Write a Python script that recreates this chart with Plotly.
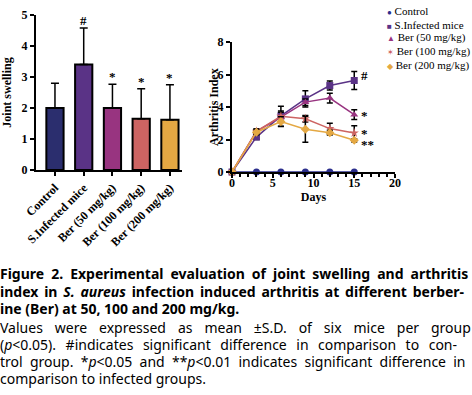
import plotly.graph_objects as go

W, H = 472, 395


def fx(px):
    return px / W


def fy(py):
    return (H - py) / H


# ---- Data: joint swelling (bar chart)
groups = ["Control", "S.Infected mice", "Ber (50 mg/kg)", "Ber (100 mg/kg)", "Ber (200 mg/kg)"]
swelling = [2.0, 3.4, 2.0, 1.65, 1.62]
swelling_sd = [0.8, 1.18, 0.77, 0.97, 1.13]
swelling_sig = ["", "#", "*", "*", "*"]
bar_colors = ["#2B2E6E", "#5A3386", "#983480", "#CD6462", "#E4A843"]

# ---- Data: arthritis index (line chart)
days = [0, 3, 6, 9, 12, 15]
control = [0, 0, 0, 0, 0, 0]
infected = [0, 2.15, 3.45, 4.5, 5.32, 5.63]
infected_sd = [0, 0.15, 0.3, 0.5, 0.28, 0.56]
ber50 = [0, 2.5, 3.38, 4.3, 4.55, 3.53]
ber50_sd = [0, 0.15, 0.3, 0.2, 0.3, 0.3]
ber100 = [0, 2.5, 3.43, 3.28, 2.67, 2.4]
ber100_sd = [0, 0.15, 0.62, 0.2, 0.33, 0.45]
ber200 = [0, 2.45, 3.1, 2.63, 2.42, 1.95]
ber200_sd = [0, 0.15, 0.3, 0.8, 0.15, 0.1]
end_sig = ["#", "*", "*", "**"]

serif = "Liberation Serif"
sans = "Noto Sans"

fig = go.Figure()

# Bar chart
fig.add_trace(go.Bar(
    x=groups, y=swelling, width=0.6,
    marker=dict(color=bar_colors, line=dict(color="black", width=2)),
    error_y=dict(type="data", array=swelling_sd, arrayminus=[0]*5, symmetric=False,
                 color="black", thickness=1.5, width=4),
    xaxis="x", yaxis="y", showlegend=False, cliponaxis=False,
))
for g, v, s, t in zip(groups, swelling, swelling_sd, swelling_sig):
    if t:
        fig.add_annotation(x=g, y=v + s, text=t, xref="x", yref="y", showarrow=False,
                           yanchor="bottom", yshift=-2,
                           font=dict(family=serif, size=13, color="black", weight="bold"))

# Line chart
series = [
    ("Control", control, None, "#2B2E8C", "circle", "\u25cf"),
    ("S.Infected mice", infected, infected_sd, "#5A3386", "square", "\u25a0"),
    ("Ber (50 mg/kg)", ber50, ber50_sd, "#983480", "triangle-up", "\u25b2"),
    ("Ber (100 mg/kg)", ber100, ber100_sd, "#CD6462", "star", "\u2736"),
    ("Ber (200 mg/kg)", ber200, ber200_sd, "#E4A843", "diamond", "\u25c6"),
]
legend_rows = [11, 25, 38, 51, 65]
for (name, ys, sd, col, sym, glyph), ly in zip(series, legend_rows):
    err = None
    if sd is not None:
        err = dict(type="data", array=sd, color="black", thickness=1.5, width=3)
    fig.add_trace(go.Scatter(
        x=days, y=ys, mode="lines+markers", name=name,
        line=dict(color=col, width=1.5),
        marker=dict(color=col, symbol=sym, size=7),
        error_y=err, xaxis="x2", yaxis="y2", cliponaxis=False, showlegend=False,
    ))
    fig.add_annotation(x=fx(385), y=fy(ly), xref="paper", yref="paper",
                       showarrow=False, xanchor="left", yanchor="middle", align="left",
                       text=f"<span style='color:{col};font-size:8px'>{glyph}</span> {name}",
                       font=dict(family=serif, size=11, color="black"))

ends = [infected[-1], ber50[-1], ber100[-1], ber200[-1]]
yshifts = [5, -1, 0, -4]
for v, t, ys in zip(ends, end_sig, yshifts):
    fig.add_annotation(x=days[-1], y=v, text=t, xref="x2", yref="y2", showarrow=False,
                       xanchor="left", xshift=5, yshift=ys,
                       font=dict(family=serif, size=13, color="black", weight="bold"))

axis_font = dict(family=serif, size=12, color="black", weight="bold")
common = dict(showline=True, linecolor="black", linewidth=2, ticks="outside",
              tickwidth=2, ticklen=4, tickcolor="black", showgrid=False,
              zeroline=False, tickfont=axis_font, automargin=False)

fig.update_layout(
    width=W, height=H, margin=dict(l=0, r=0, t=0, b=0),
    paper_bgcolor="white", plot_bgcolor="white",
    xaxis=dict(domain=[fx(36), fx(182)], range=[-0.66, 4.42], tickangle=-45,
               anchor="y", **common),
    yaxis=dict(domain=[fy(170), fy(15)], range=[0, 5], dtick=1,
               anchor="x", title=dict(text="Joint swelling", font=axis_font, standoff=20),
               **common),
    xaxis2=dict(domain=[fx(232), fx(395)], range=[0, 20], dtick=5, anchor="y2",
                ticklabelstandoff=-5,
                minor=dict(dtick=1, ticks="outside", ticklen=3, tickwidth=1.5, tickcolor="black"),
                title=dict(text="Days", font=axis_font, standoff=0), **common),
    yaxis2=dict(domain=[fy(172), fy(42)], range=[0, 8], dtick=2, anchor="x2", **common),
    showlegend=False,
)
fig.add_annotation(x=fx(214), y=(fy(172) + fy(42)) / 2, xref="paper", yref="paper",
                   text="Arthritis Index", textangle=-90, showarrow=False,
                   xanchor="center", yanchor="middle", font=axis_font)

# Caption (justified through word-spacing)
cap_bold = [
    ("Figure 2. Experimental evaluation of joint swelling and arthritis", 274, 3.4),
    ("index in <i>S. aureus</i> infection induced arthritis at different berber-", 291, 2.2),
    ("ine (Ber) at 50, 100 and 200 mg/kg.", 308, 0),
]
cap_norm = [
    ("Values were expressed as mean \u00b1S.D. of six mice per group", 327, 8.3),
    ("(<i>p</i><0.05). #indicates significant difference in comparison to con-", 344, 5.9),
    ("trol group. *<i>p</i><0.05 and **<i>p</i><0.01 indicates significant difference in", 361, 3.6),
    ("comparison to infected groups.", 378, 0),
]
for rows, wt in ((cap_bold, "bold"), (cap_norm, "normal")):
    for txt, y, ws in rows:
        fig.add_annotation(x=fx(-2), y=fy(y), xref="paper", yref="paper",
                           text=f"<span style='word-spacing:{ws}px'>{txt}</span>",
                           showarrow=False, xanchor="left", yanchor="middle", align="left",
                           font=dict(family=sans, size=14, color="black", weight=wt))

fig.write_html(
    "out.html",
    config={"displayModeBar": False},
    post_script="document.body.style.margin='0';document.body.style.overflow='hidden';",
)
